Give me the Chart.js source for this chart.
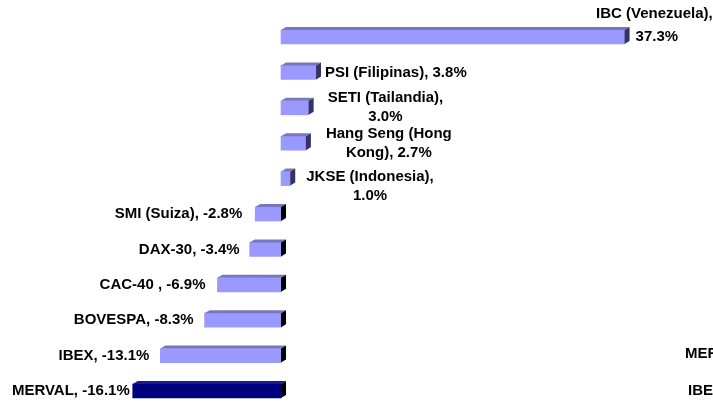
<!DOCTYPE html>
<html>
<head>
<meta charset="utf-8">
<script src="https://cdn.jsdelivr.net/npm/chart.js@4/dist/chart.umd.min.js"></script>
<style>
  html, body { margin: 0; padding: 0; background: #fff; }
  #wrap { width: 713px; height: 403px; }
</style>
</head>
<body>
<div id="wrap"><canvas id="chartIndices"></canvas></div>
<script>
// indices bursatiles, variacion %
var indices = ['IBC (Venezuela)', 'PSI (Filipinas)', 'SETI (Tailandia)', 'Hang Seng (Hong Kong)',
  'JKSE (Indonesia)', 'SMI (Suiza)', 'DAX-30', 'CAC-40 ', 'BOVESPA', 'IBEX', 'MERVAL'];
var variacion = [37.3, 3.8, 3.0, 2.7, 1.0, -2.8, -3.4, -6.9, -8.3, -13.1, -16.1];
// etiquetas tal como salen en el grafico (con sus cortes de linea)
var etiquetas = [
  ['IBC (Venezuela),', '37.3%'],
  ['PSI (Filipinas), 3.8%'],
  ['SETI (Tailandia),', '3.0%'],
  ['Hang Seng (Hong', 'Kong), 2.7%'],
  ['JKSE (Indonesia),', '1.0%'],
  ['SMI (Suiza), -2.8%'],
  ['DAX-30, -3.4%'],
  ['CAC-40 , -6.9%'],
  ['BOVESPA, -8.3%'],
  ['IBEX, -13.1%'],
  ['MERVAL, -16.1%']
];

var colorBar = '#9999FF';
var colorMerval = '#000080';
var fuente = 'bold 15px "Liberation Sans", Arial, sans-serif';

getColors = () => variacion.map((v, i) => (indices[i] == 'MERVAL' ? colorMerval : colorBar));

// cara superior y lateral para el efecto 3D + etiquetas
var bar3d = {
  id: 'bar3d',
  afterDatasetsDraw(chart) {
    let ctx = chart.ctx;
    let meta = chart.getDatasetMeta(0);
    let dx = 5, dy = -3;
    // ajuste a mano de donde cae cada etiqueta (dx, dy)
    let ajuste = [[0, 0], [4, 0], [14, 0], [15, 0], [11, 8], [13, 0], [10, 0], [12, 0], [11, 0], [11, 0], [3, 0]];

    meta.data.forEach((el, i) => {
      let p = el.getProps(['x', 'y', 'base', 'height'], true);
      let left = Math.min(p.x, p.base);
      let right = Math.max(p.x, p.base);
      let top = p.y - p.height / 2;
      let bottom = p.y + p.height / 2;
      let merval = indices[i] == 'MERVAL';

      ctx.save();
      // arriba
      ctx.fillStyle = merval ? '#1A1A8C' : '#7777BB';
      ctx.beginPath();
      ctx.moveTo(left, top);
      ctx.lineTo(left + dx, top + dy);
      ctx.lineTo(right + dx, top + dy);
      ctx.lineTo(right, top);
      ctx.closePath();
      ctx.fill();
      // lado derecho
      ctx.fillStyle = variacion[i] >= 0 ? '#333366' : '#000000';
      ctx.beginPath();
      ctx.moveTo(right, top);
      ctx.lineTo(right + dx, top + dy);
      ctx.lineTo(right + dx, bottom + dy);
      ctx.lineTo(right, bottom);
      ctx.closePath();
      ctx.fill();

      // etiqueta
      ctx.fillStyle = '#000';
      ctx.font = fuente;
      ctx.textBaseline = 'middle';
      let lines = etiquetas[i];
      let lh = 19;
      let w = Math.max.apply(null, lines.map((l) => ctx.measureText(l).width));
      let y0 = p.y - ((lines.length - 1) * lh) / 2 + ajuste[i][1];
      if (i == 0) {
        // IBC: nombre arriba, valor al lado de la barra
        ctx.textAlign = 'left';
        ctx.fillText(lines[0], 596, p.y - 23);
        ctx.fillText(lines[1], right + dx + 6, p.y);
      } else if (variacion[i] >= 0) {
        let cx = right + dx + ajuste[i][0] + w / 2;
        ctx.textAlign = 'center';
        lines.forEach((l, k) => ctx.fillText(l, cx, y0 + k * lh));
      } else {
        ctx.textAlign = 'right';
        lines.forEach((l, k) => ctx.fillText(l, left - ajuste[i][0], y0 + k * lh));
      }
      ctx.restore();
    });

    // restos de otro grafico cortado a la derecha
    ctx.save();
    ctx.fillStyle = '#000';
    ctx.font = fuente;
    ctx.textBaseline = 'middle';
    ctx.textAlign = 'left';
    ctx.fillText('MERVAL', 685, 354);
    ctx.fillText('IBEX', 688, 391);
    ctx.restore();
  }
};

var cv = document.getElementById('chartIndices');
var chartIndices = new Chart(cv, {
  type: 'bar',
  plugins: [bar3d],
  data: {
    labels: indices,
    datasets: [
      {
        data: variacion,
        backgroundColor: getColors(),
        borderWidth: 0,
        barThickness: 14,
        clip: false,
      },
    ],
  },
  options: {
    indexAxis: 'y',
    responsive: true,
    maintainAspectRatio: false,
    animation: false,
    layout: {
      padding: { top: 37, bottom: 12, left: 0, right: 0 },
    },
    scales: {
      x: {
        display: false,
        min: -30.51,
        max: 46.9,
      },
      y: {
        display: false,
        offset: false,
      },
    },
    plugins: {
      legend: { display: false },
      tooltip: { enabled: false },
    },
  },
});
</script>
</body>
</html>
